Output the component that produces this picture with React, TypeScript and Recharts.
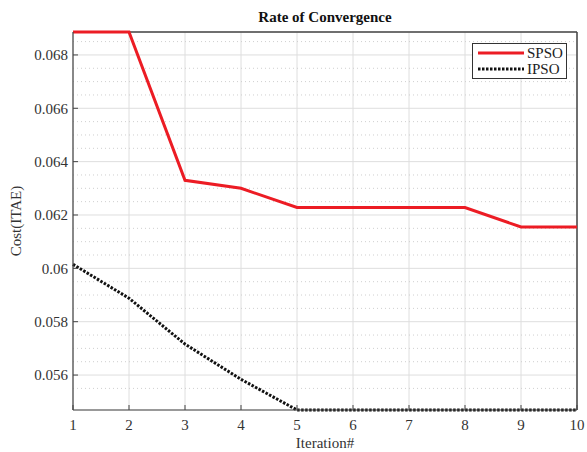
import React from 'react';
import { LineChart, Line, XAxis, YAxis, CartesianGrid, ReferenceLine } from 'recharts';

const iterations = [1, 2, 3, 4, 5, 6, 7, 8, 9, 10];
const spso = [0.06886, 0.06886, 0.0633, 0.063, 0.06228, 0.06228, 0.06228, 0.06228, 0.06155, 0.06155];
const ipso = [0.06015, 0.05888, 0.05716, 0.05584, 0.05469, 0.05469, 0.05469, 0.05469, 0.05469, 0.05469];

const yTicks = [0.056, 0.058, 0.06, 0.062, 0.064, 0.066, 0.068];
const yMinorOnly = [
  0.0555, 0.0565, 0.057, 0.0575, 0.0585, 0.059, 0.0595, 0.0605, 0.061, 0.0615,
  0.0625, 0.063, 0.0635, 0.0645, 0.065, 0.0655, 0.0665, 0.067, 0.0675, 0.0685,
];
const yDomain = [0.05469, 0.06886];

const series = [
  { key: 'SPSO', color: '#ec1c24', dash: undefined as string | undefined },
  { key: 'IPSO', color: '#111', dash: '2.5 1.5' },
];

const data = iterations.map((it, i) => ({ it, SPSO: spso[i], IPSO: ipso[i] }));

const FONT = '"Liberation Serif", "Times New Roman", serif';

const LegendBox = () => (
  <div
    style={{
      position: 'absolute',
      left: 472,
      top: 43,
      border: '1.5px solid #333',
      background: '#fff',
      padding: '1px 3px 1px 5px',
      fontFamily: FONT,
      fontSize: 15,
      color: '#222',
      lineHeight: '16px',
    }}
  >
    {series.map((s) => (
      <div key={s.key} style={{ display: 'flex', alignItems: 'center' }}>
        <svg width={46} height={10} style={{ marginRight: 3 }}>
          <line x1={0} x2={46} y1={5} y2={5} stroke={s.color} strokeWidth={3} strokeDasharray={s.dash} />
        </svg>
        <span>{s.key}</span>
      </div>
    ))}
  </div>
);

export default function App() {
  return (
    <div style={{ position: 'absolute', left: 0, top: 0, background: '#fff' }}>
      <LineChart width={587} height={452} data={data} margin={{ top: 32, right: 10, left: 0, bottom: 0 }}>
        <text x={325} y={22} textAnchor="middle" fontFamily={FONT} fontSize={15} fontWeight="bold" fill="#111">
          Rate of Convergence
        </text>
        {yMinorOnly.map((v) => (
          <ReferenceLine key={v} y={v} stroke="#cfcfcf" strokeDasharray="1 3" strokeWidth={1} />
        ))}
        <CartesianGrid stroke="#dedede" strokeWidth={1} />
        {/* box border on top and right, like matlab's "box on" */}
        <ReferenceLine x={10} stroke="#444" strokeWidth={1.5} ifOverflow="visible" />
        <ReferenceLine y={yDomain[1]} stroke="#444" strokeWidth={1.5} ifOverflow="visible" />
        <XAxis
          dataKey="it"
          type="number"
          domain={[1, 10]}
          ticks={iterations}
          height={42}
          axisLine={{ stroke: '#444', strokeWidth: 1.2 }}
          tickLine={{ stroke: '#444' }}
          tickSize={-5}
          tickMargin={14}
          tick={{ fontFamily: FONT, fontSize: 15, fill: '#333' }}
          label={{ value: 'Iteration#', position: 'insideBottom', offset: 4, fontFamily: FONT, fontSize: 15, fill: '#333' }}
        />
        <YAxis
          type="number"
          domain={yDomain}
          ticks={yTicks}
          width={73}
          axisLine={{ stroke: '#444', strokeWidth: 1.2 }}
          tickLine={{ stroke: '#444' }}
          tickSize={-5}
          tickMargin={10}
          tickFormatter={(v: number) => String(v)}
          tick={{ fontFamily: FONT, fontSize: 15, fill: '#333' }}
          label={{
            value: 'Cost(ITAE)',
            angle: -90,
            position: 'insideLeft',
            offset: 16,
            style: { textAnchor: 'middle' },
            fontFamily: FONT,
            fontSize: 15,
            fill: '#333',
          }}
        />
        {series.map((s) => (
          <Line
            key={s.key}
            type="linear"
            dataKey={s.key}
            stroke={s.color}
            strokeWidth={3}
            strokeDasharray={s.dash}
            dot={false}
            isAnimationActive={false}
          />
        ))}
      </LineChart>
      <LegendBox />
    </div>
  );
}
